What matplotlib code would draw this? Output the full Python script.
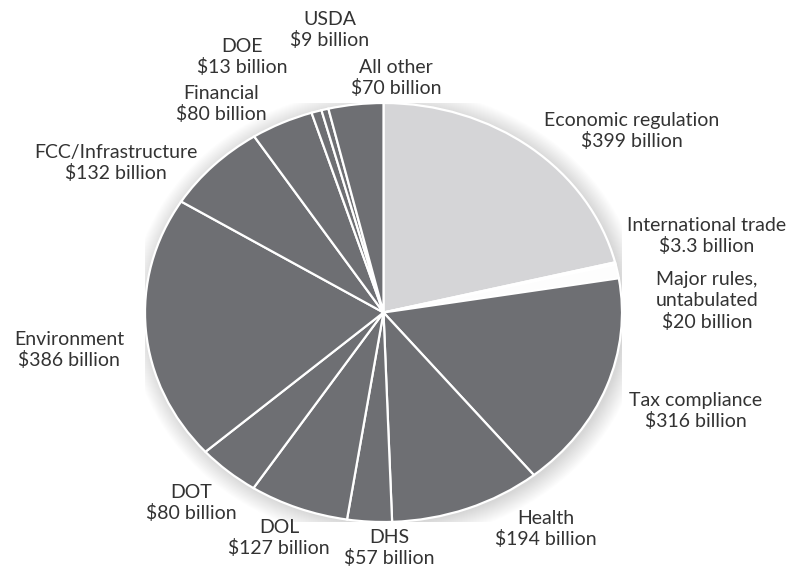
import matplotlib.pyplot as plt
from matplotlib.patches import Ellipse

# clockwise from 12 o'clock
categories = ["Economic regulation", "International trade", "Major rules,\nuntabulated",
              "Tax compliance", "Health", "DHS", "DOL", "DOT", "Environment",
              "FCC/Infrastructure", "Financial", "DOE", "USDA", "All other"]
values = [399, 3.3, 20, 316, 194, 57, 127, 80, 386, 132, 80, 13, 9, 70]
value_labels = ["$399 billion", "$3.3 billion", "$20 billion", "$316 billion",
                "$194 billion", "$57 billion", "$127 billion", "$80 billion",
                "$386 billion", "$132 billion", "$80 billion", "$13 billion",
                "$9 billion", "$70 billion"]

LIGHT = "#d5d5d7"
WHITE = "#fdfdfd"
DARK = "#6e6f73"
colors = [LIGHT, WHITE, WHITE] + [DARK] * 11

# label centres in pixels of the 791x570 picture
label_pos = [(632, 131), (707, 236), (707, 301), (696, 411), (546, 529),
             (389, 548), (279, 538), (191, 503), (69, 350), (116, 163),
             (221, 104), (242, 57), (330, 30), (396, 78)]

plt.rcParams['font.family'] = ['Lato', 'DejaVu Sans']

fig = plt.figure(figsize=(7.91, 5.70), dpi=100)
ax = fig.add_axes([145 / 791, 48 / 570, 477 / 791, 419 / 570])

# soft glow around the pie
for k in range(20):
    ax.add_patch(Ellipse((0.012, -0.01), 2 + 0.008 * k, 2 + 0.009 * k,
                         color="#000000", alpha=0.009, lw=0, zorder=0))

ax.pie(values, colors=colors, startangle=90, counterclock=False,
       wedgeprops=dict(edgecolor="white", linewidth=1.6, zorder=2))
ax.set_aspect("auto")
ax.set_xlim(-1, 1)
ax.set_ylim(-1, 1)
ax.axis("off")

for name, val, (px, py) in zip(categories, value_labels, label_pos):
    fig.text(px / 791, 1 - py / 570, name + "\n" + val, ha="center", va="center",
             fontsize=14, color="#333333", linespacing=1.25)

fig.savefig("out.png", dpi=100)
